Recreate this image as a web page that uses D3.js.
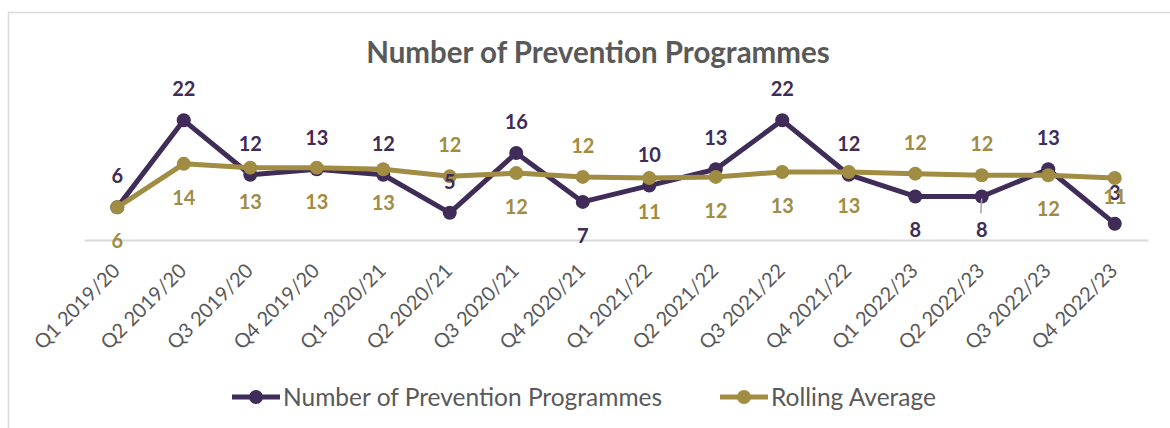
<!DOCTYPE html>
<html>
<head>
<meta charset="utf-8">
<script src="https://cdn.jsdelivr.net/npm/d3@7"></script>
<style>
  body { margin: 0; background: #fff; }
  svg { display: block; }
</style>
</head>
<body>
<div id="chart"></div>
<script>
// chart size
var width = 1170;
var height = 428;

var purple = '#402c58';
var gold = '#a08c42';
var greyText = '#595959';
var font = 'Lato, "Open Sans", sans-serif';

// data
var quarters = ['Q1 2019/20', 'Q2 2019/20', 'Q3 2019/20', 'Q4 2019/20',
  'Q1 2020/21', 'Q2 2020/21', 'Q3 2020/21', 'Q4 2020/21',
  'Q1 2021/22', 'Q2 2021/22', 'Q3 2021/22', 'Q4 2021/22',
  'Q1 2022/23', 'Q2 2022/23', 'Q3 2022/23', 'Q4 2022/23'];
var programmes = [6, 22, 12, 13, 12, 5, 16, 7, 10, 13, 22, 12, 8, 8, 13, 3];
var rollingAvg = [6, 14, 13.3, 13.3, 13, 11.7, 12.3, 11.6, 11.4, 11.6, 12.5, 12.5, 12.2, 11.9, 11.9, 11.4];
// where each data label sits
var programmesLabelPos = ['above', 'above', 'above', 'above', 'above', 'above', 'above', 'below',
  'above', 'above', 'above', 'above', 'below', 'below', 'above', 'above'];
var rollingLabelPos = ['below', 'below', 'below', 'below', 'below', 'above', 'below', 'above',
  'below', 'below', 'below', 'below', 'above', 'above', 'below', 'near'];

var seriesList = [
  { name: 'Number of Prevention Programmes', values: programmes, labelPos: programmesLabelPos, color: purple },
  { name: 'Rolling Average', values: rollingAvg, labelPos: rollingLabelPos, color: gold }
];

var labelOffset = { above: -31, below: 34, near: 19 };

var svg = d3.select('#chart')
  .append('svg')
  .attr('width', width)
  .attr('height', height);

// chart border
svg.append('rect')
  .attr('x', 8.5).attr('y', 12.5)
  .attr('width', 1200).attr('height', 500)
  .attr('fill', '#fff')
  .attr('stroke', '#d9d9d9')
  .attr('stroke-width', 1.5);

// title
svg.append('text')
  .attr('x', 598).attr('y', 63)
  .attr('text-anchor', 'middle')
  .style('font-family', font)
  .style('font-weight', 'bold')
  .style('font-size', '29.5px')
  .style('fill', greyText)
  .text('Number of Prevention Programmes');

var x = d3.scaleBand().domain(quarters).range([84, 1148]);
var y = d3.scaleLinear().domain([0, 25]).range([240, 104]);
var cx = function(d, i) { return x(quarters[i]) + x.bandwidth() / 2; };

// x axis
var xAxis = svg.append('g')
  .attr('transform', 'translate(0,240)')
  .call(d3.axisBottom(x).tickSize(0));
xAxis.select('.domain').attr('stroke', '#d9d9d9').attr('stroke-width', 2);
xAxis.selectAll('text')
  .attr('y', 0).attr('dy', 0)
  .attr('transform', 'translate(4,32) rotate(-45)')
  .attr('text-anchor', 'end')
  .style('font-family', font)
  .style('font-size', '20px')
  .style('fill', greyText);

var line = d3.line()
  .x(cx)
  .y(function(d) { return y(d); });

seriesList.forEach(function(s) {
  var g = svg.append('g');
  g.append('path')
    .datum(s.values)
    .attr('d', line)
    .attr('fill', 'none')
    .attr('stroke', s.color)
    .attr('stroke-width', 5)
    .attr('stroke-linejoin', 'round');
  g.selectAll('circle')
    .data(s.values)
    .enter()
    .append('circle')
    .attr('cx', cx)
    .attr('cy', function(d) { return y(d); })
    .attr('r', 7)
    .attr('fill', s.color);
});

// data labels
seriesList.forEach(function(s) {
  svg.append('g').selectAll('text')
    .data(s.values)
    .enter()
    .append('text')
    .attr('x', cx)
    .attr('y', function(d, i) { return y(d) + labelOffset[s.labelPos[i]]; })
    .attr('dy', '0.35em')
    .attr('text-anchor', 'middle')
    .style('font-family', font)
    .style('font-weight', 'bold')
    .style('font-size', '20px')
    .style('fill', s.color)
    .text(function(d) { return Math.round(d); });
});

// leader line for the crowded Q2 2022/23 label
var li = quarters.indexOf('Q2 2022/23');
svg.append('line')
  .attr('x1', cx(null, li)).attr('x2', cx(null, li) - 1)
  .attr('y1', y(programmes[li]) + 2).attr('y2', y(programmes[li]) + 17)
  .attr('stroke', '#a6a6a6')
  .attr('stroke-width', 1.5);

// legend
var legend = svg.append('g').attr('transform', 'translate(0,397)');
var legendX = [232, 720];
seriesList.forEach(function(s, i) {
  var item = legend.append('g').attr('transform', 'translate(' + legendX[i] + ',0)');
  item.append('line')
    .attr('x1', 0).attr('x2', 48)
    .attr('stroke', s.color)
    .attr('stroke-width', 5);
  item.append('circle')
    .attr('cx', 24).attr('r', 7)
    .attr('fill', s.color);
  item.append('text')
    .attr('x', 51).attr('dy', '0.35em')
    .style('font-family', font)
    .style('font-size', '24.5px')
    .style('fill', greyText)
    .text(s.name);
});
</script>
</body>
</html>
